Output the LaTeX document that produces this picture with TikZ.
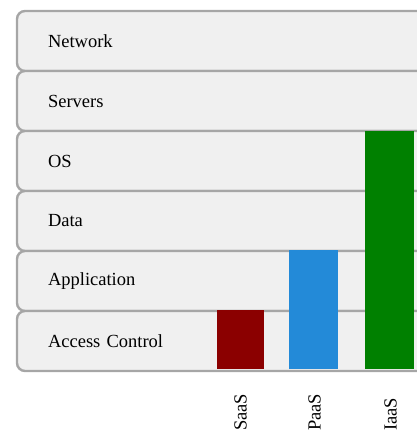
\documentclass[tikz,border=0pt]{standalone}
\usepackage{fontspec}
\setmainfont{Liberation Serif}
\usepackage{tikz}
\usepackage{xcolor}
\usetikzlibrary{positioning}
\definecolor{rowfill}{HTML}{F0F0F0}
\definecolor{rowline}{HTML}{A6A6A6}
\definecolor{saascol}{HTML}{8B0000}
\definecolor{paascol}{HTML}{238AD8}
\definecolor{iaascol}{HTML}{008000}

\begin{document}
\begin{tikzpicture}[x=1pt,y=1pt,every node/.style={font=\fontsize{18.5}{22}\selectfont}]
    \tikzstyle{layer}=[rectangle,draw=rowline,line width=2.4pt,fill=rowfill,rounded corners=8pt,
                       minimum width=423pt,minimum height=60pt,text width=361pt,
                       inner xsep=31pt,align=left];
    \tikzstyle{bar}=[rectangle,inner sep=0pt,anchor=south];
    \tikzstyle{tag}=[rotate=90,anchor=west,inner sep=0pt];
    \useasboundingbox (0,0) rectangle (416,430);
    % --- layers of the stack ---
    \node[layer] (net) at (228.5,389) {Network};
    \node[layer] (srv) at (228.5,329) {Servers};
    \node[layer] (os)  at (228.5,269) {OS};
    \node[layer] (dat) at (228.5,209) {Data};
    \node[layer] (app) at (228.5,149) {Application};
    \node[layer] (acc) at (228.5, 89) {Access Control};
    % --- service models ---
    \node[bar,fill=saascol,minimum width=47pt,minimum height=59pt]  (saas) at (240.5,61) {};
    \node[bar,fill=paascol,minimum width=49pt,minimum height=119pt] (paas) at (313.5,61) {};
    \node[bar,fill=iaascol,minimum width=49pt,minimum height=238pt] (iaas) at (389.5,61) {};
    \node[tag] (saast) at (240.5,-1) {SaaS};
    \node[tag] (paast) at (314.5,-1) {PaaS};
    \node[tag] (iaast) at (390.5,-1) {IaaS};
\end{tikzpicture}
\end{document}
